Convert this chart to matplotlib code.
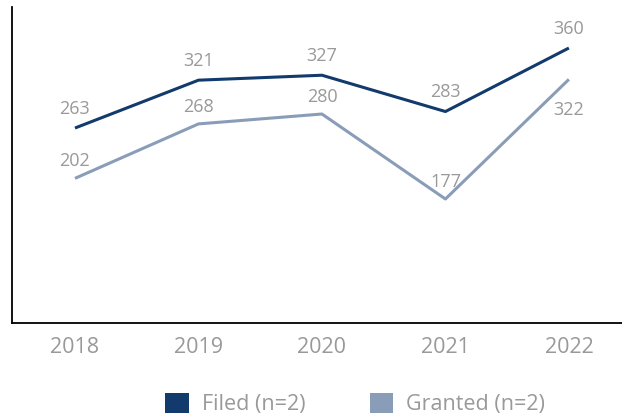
import matplotlib
matplotlib.use("Agg")
import matplotlib.pyplot as plt
from matplotlib.patches import Patch

years = ["2018", "2019", "2020", "2021", "2022"]
filed = [263, 321, 327, 283, 360]
granted = [202, 268, 280, 177, 322]

navy = "#123a6d"
steel = "#8a9db8"
grey = "#999999"

plt.rcParams['font.family'] = ['Open Sans', 'DejaVu Sans']

fig = plt.figure(figsize=(6.22, 4.19), dpi=100)
ax = fig.add_axes([12 / 622, 96 / 419, 610 / 622, 316 / 419])

x = list(range(len(years)))
ax.plot(x, filed, color=navy, lw=2.2, solid_capstyle='butt')
ax.plot(x, granted, color=steel, lw=2.2, solid_capstyle='butt')

for i, v in enumerate(filed):
    ax.annotate(str(v), (i, v), xytext=(0, 14), textcoords='offset points',
                ha='center', va='center', fontsize=13, color=grey)
for i, v in enumerate(granted):
    # last granted label sits under the line
    dy = -22 if i == len(granted) - 1 else 12.5
    ax.annotate(str(v), (i, v), xytext=(0, dy), textcoords='offset points',
                ha='center', va='center', fontsize=13, color=grey)

ax.set_xlim(-0.51, 4.43)
ax.set_ylim(26.7, 409.7)
ax.set_xticks(x)
ax.set_xticklabels(years, fontsize=15.5, color=grey)
ax.tick_params(axis='x', length=0, pad=10)
ax.set_yticks([])
for s in ['top', 'right']:
    ax.spines[s].set_visible(False)
for s in ['left', 'bottom']:
    ax.spines[s].set_color('black')
    ax.spines[s].set_linewidth(1.3)

handles = [Patch(facecolor=navy, edgecolor='none', label='Filed (n=2)'),
           Patch(facecolor=steel, edgecolor='none', label='Granted (n=2)')]
leg = fig.legend(handles=handles, loc='center', bbox_to_anchor=(355 / 622, 15 / 419),
                 ncol=2, frameon=False, fontsize=15.5, handlelength=1.1, handleheight=1.1,
                 columnspacing=3.0, handletextpad=0.6)
for t in leg.get_texts():
    t.set_color(grey)

fig.savefig("out.png", dpi=100)
